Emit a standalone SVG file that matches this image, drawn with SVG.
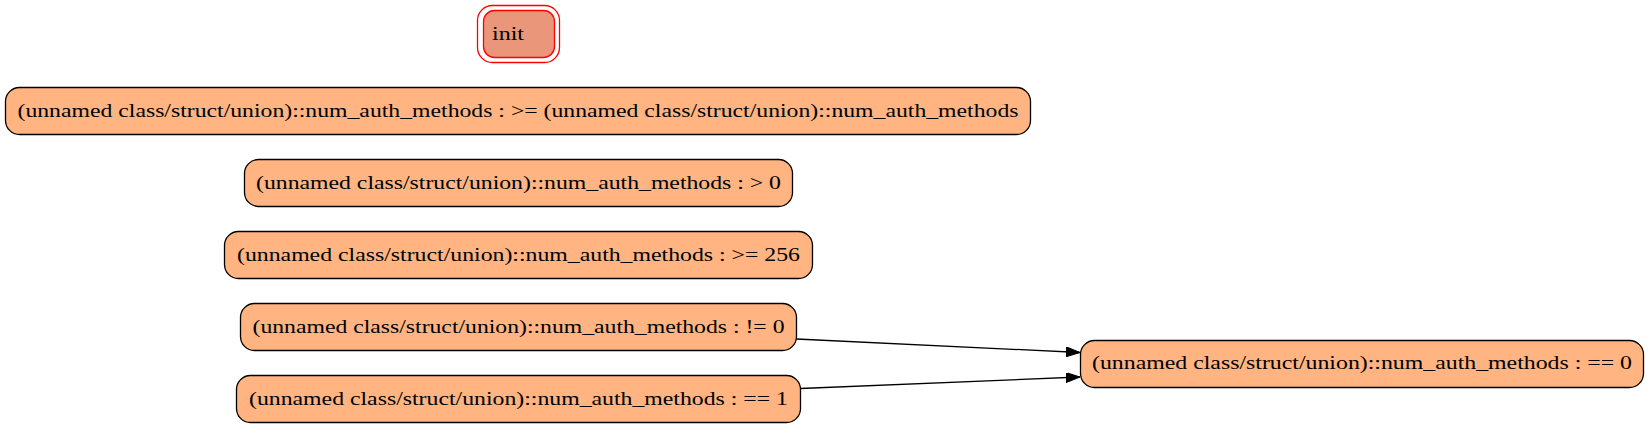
<svg xmlns="http://www.w3.org/2000/svg" width="1649" height="429" viewBox="0 0 1649 429">
<style>
.n{fill:#ffb482;stroke:#000;stroke-width:1.3}
.t{font-family:"Liberation Serif","Times New Roman",serif;font-size:19px;fill:#000;text-anchor:middle}
.e{fill:none;stroke:#000;stroke-width:1.3}
</style>
<defs>
<marker id="ah" markerWidth="14" markerHeight="10" refX="14" refY="5" orient="auto" markerUnits="userSpaceOnUse">
<polygon points="0,0 14,5 0,10" fill="#000" stroke="#000" stroke-width="1"/>
</marker>
</defs>
<rect width="1649" height="429" fill="#fff"/>
<g id="init">
<rect x="477.5" y="5.5" width="82" height="57" rx="15" fill="none" stroke="#ff0000" stroke-width="1.3"/>
<rect x="483.5" y="10.5" width="71" height="47" rx="11" fill="#e9967a" stroke="#ff0000" stroke-width="1.3"/>
<text x="492" y="39.5" class="t" style="text-anchor:start" textLength="32" lengthAdjust="spacingAndGlyphs">init</text>
</g>
<g id="n_ge_self">
<rect class="n" x="5.5" y="87.5" width="1025" height="47" rx="14"/>
<text x="518" y="116.5" class="t" textLength="1001" lengthAdjust="spacingAndGlyphs">(unnamed class/struct/union)::num_auth_methods : &gt;= (unnamed class/struct/union)::num_auth_methods</text>
</g>
<g id="n_gt0">
<rect class="n" x="244.5" y="159.5" width="548" height="47" rx="14"/>
<text x="518.5" y="188.5" class="t" textLength="525" lengthAdjust="spacingAndGlyphs">(unnamed class/struct/union)::num_auth_methods : &gt; 0</text>
</g>
<g id="n_ge256">
<rect class="n" x="224.5" y="231.5" width="588" height="47" rx="14"/>
<text x="518.5" y="260.5" class="t" textLength="563" lengthAdjust="spacingAndGlyphs">(unnamed class/struct/union)::num_auth_methods : &gt;= 256</text>
</g>
<g id="n_ne0">
<rect class="n" x="240.5" y="303.5" width="556" height="47" rx="14"/>
<text x="518.5" y="332.5" class="t" textLength="532" lengthAdjust="spacingAndGlyphs">(unnamed class/struct/union)::num_auth_methods : != 0</text>
</g>
<g id="n_eq1">
<rect class="n" x="236.5" y="375.5" width="564" height="47" rx="14"/>
<text x="518.5" y="404.5" class="t" textLength="539" lengthAdjust="spacingAndGlyphs">(unnamed class/struct/union)::num_auth_methods : == 1</text>
</g>
<g id="n_eq0">
<rect class="n" x="1080.5" y="340.5" width="563" height="47" rx="14"/>
<text x="1362" y="369" class="t" textLength="540" lengthAdjust="spacingAndGlyphs">(unnamed class/struct/union)::num_auth_methods : == 0</text>
</g>
<g id="edges">
<line class="e" x1="796.5" y1="339" x2="1080" y2="352.5" marker-end="url(#ah)"/>
<line class="e" x1="800.5" y1="388.5" x2="1080" y2="377" marker-end="url(#ah)"/>
</g>
</svg>
